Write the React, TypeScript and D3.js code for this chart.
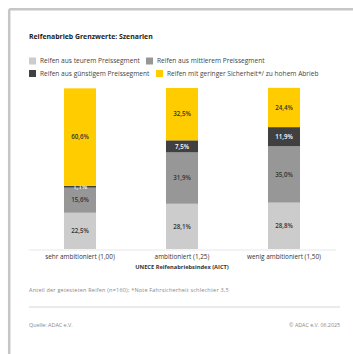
import React from "react";
import * as d3 from "d3";

const categories = ["sehr ambitioniert (1,00)", "ambitioniert (1,25)", "wenig ambitioniert (1,50)"];
const seriesNames = [
  "Reifen aus teurem Preissegment",
  "Reifen aus mittlerem Preissegment",
  "Reifen aus günstigem Preissegment",
  "Reifen mit geringer Sicherheit*/ zu hohem Abrieb",
];
const teuer = [22.5, 28.1, 28.8];
const mittel = [15.6, 31.9, 35.0];
const guenstig = [1.1, 7.5, 11.9];
const unsicher = [60.6, 32.5, 24.4];
const colors = ["#cccccc", "#979797", "#404040", "#ffcc00"];
const labelColors = ["#333333", "#333333", "#ffffff", "#333333"];

const W = 353;
const H = 354;
const FONT = "'Open Sans', 'Noto Sans', sans-serif";

export default function App() {
  const series = [teuer, mittel, guenstig, unsicher];
  const x = d3.scaleBand<string>().domain(categories).range([29, 335]).paddingInner(0.686).paddingOuter(0.343);
  const y = d3.scaleLinear().domain([0, 100]).range([249, 88]);
  const rows = categories.map((c, i) => {
    const r: any = { cat: c };
    series.forEach((s, k) => (r["s" + k] = s[i]));
    return r;
  });
  const stacked = d3.stack().keys(series.map((_, k) => "s" + k))(rows);
  const fmt = (v: number) => v.toFixed(1).replace(".", ",") + "%";

  const legendItems = [
    { k: 0, x: 29, y: 61 },
    { k: 1, x: 146, y: 61 },
    { k: 2, x: 29, y: 73.5 },
    { k: 3, x: 156, y: 73.5 },
  ];

  return (
    <svg width={W} height={H} style={{ position: "absolute", left: 0, top: 0 }} fontFamily={FONT}>
      <rect x={0} y={0} width={W} height={H} fill="#fff" />
      <line x1={9.2} y1={9.2} x2={W} y2={9.2} stroke="#c6c6c6" strokeWidth={2.5} />
      <line x1={9.2} y1={9.2} x2={9.2} y2={H} stroke="#c6c6c6" strokeWidth={2.5} />
      <text x={29} y={38.5} fontSize={6.9} fontWeight={700} fill="#222">
        Reifenabrieb Grenzwerte: Szenarien
      </text>
      {legendItems.map((l) => (
        <g key={l.k}>
          <rect x={l.x} y={l.y - 3.5} width={7} height={7} fill={colors[l.k]} />
          <text x={l.x + 11} y={l.y + 2.3} fontSize={6.6} fill="#444">
            {seriesNames[l.k]}
          </text>
        </g>
      ))}
      <line x1={29} x2={336} y1={250} y2={250} stroke="#efefef" strokeWidth={1.5} />
      {stacked.map((layer, k) => (
        <g key={k}>
          {layer.map((d, i) => {
            const bx = x(categories[i])!;
            const y0 = y(d[0]);
            const y1 = y(d[1]);
            return (
              <g key={i}>
                <rect x={bx} y={y1} width={x.bandwidth()} height={y0 - y1} fill={colors[k]} />
                <text
                  x={bx + x.bandwidth() / 2}
                  y={(y0 + y1) / 2 + 2.2}
                  textAnchor="middle"
                  fontSize={6.2}
                  fontWeight={600}
                  fill={labelColors[k]}
                >
                  {fmt(d[1] - d[0])}
                </text>
              </g>
            );
          })}
        </g>
      ))}
      {categories.map((c) => (
        <text key={c} x={x(c)! + x.bandwidth() / 2} y={258.5} textAnchor="middle" fontSize={6.4} fill="#333">
          {c}
        </text>
      ))}
      <text x={182} y={268.5} textAnchor="middle" fontSize={5.7} fontWeight={700} fill="#333">
        UNECE Reifenabriebsindex (AICT)
      </text>
      <text x={29} y={291.5} fontSize={5.5} letterSpacing={0.2} fill="#888">
        Anteil der getesteten Reifen (n=160); *Note Fahrsicherheit schlechter 3,5
      </text>
      <line x1={29} x2={340} y1={307} y2={307} stroke="#d6d6d6" strokeWidth={1} />
      <text x={29} y={326.5} fontSize={5.4} fill="#888">
        Quelle: ADAC e.V.
      </text>
      <text x={340} y={326.5} textAnchor="end" fontSize={5.3} fill="#888">
        © ADAC e.V. 06.2025
      </text>
    </svg>
  );
}
